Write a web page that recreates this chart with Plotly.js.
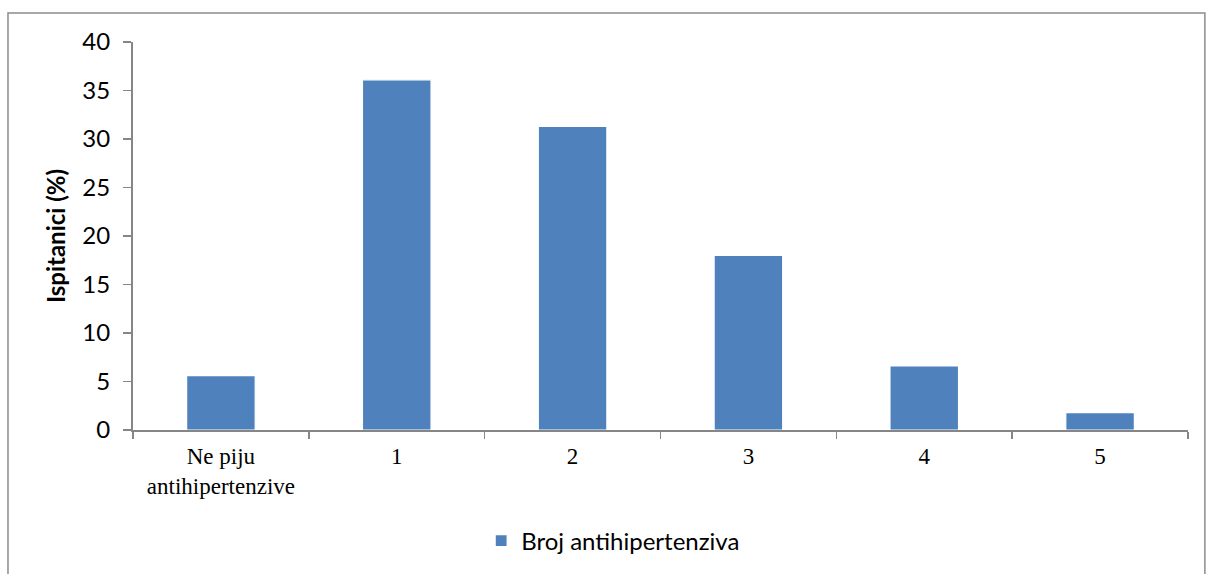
<!DOCTYPE html>
<html>
<head>
<meta charset="utf-8">
<script src="https://cdn.plot.ly/plotly-3.0.1.min.js"></script>
<style>html,body{margin:0;padding:0;background:#fff;}#chart{width:1206px;height:574px;}</style>
</head>
<body>
<div id="chart"></div>
<script>
const categories = ["Ne piju<br>antihipertenzive", "1", "2", "3", "4", "5"];
const values = [5.6, 36.1, 31.3, 18.0, 6.6, 1.8];
const seriesName = "Broj antihipertenziva";
const yTicks = [0, 5, 10, 15, 20, 25, 30, 35, 40];

const trace = {
  type: "bar",
  x: categories,
  y: values,
  name: seriesName,
  width: 0.39,
  marker: { color: "#4f81bd", line: { color: "#ffffff", width: 1.2 } },
  showlegend: true,
  hoverinfo: "x+y"
};

const sans = "Lato, Carlito, Calibri, sans-serif";

const layout = {
  width: 1206,
  height: 574,
  margin: { l: 133, r: 18, t: 42, b: 143 },
  paper_bgcolor: "#ffffff",
  plot_bgcolor: "#ffffff",
  showlegend: true,
  xaxis: {
    type: "category",
    showline: true,
    linecolor: "#868686",
    linewidth: 2,
    ticks: "outside",
    tickson: "boundaries",
    ticklen: 7,
    tickcolor: "#868686",
    tickwidth: 1.5,
    showgrid: false,
    zeroline: false,
    tickfont: { family: "Liberation Serif, Times New Roman, serif", size: 23, color: "#000" },
    ticklabelstandoff: 4
  },
  yaxis: {
    range: [0, 40],
    tickvals: yTicks,
    showline: true,
    linecolor: "#868686",
    linewidth: 2,
    ticks: "outside",
    ticklen: 8,
    tickcolor: "#868686",
    tickwidth: 1.5,
    showgrid: false,
    zeroline: false,
    tickfont: { family: sans, size: 24, color: "#000" },
    ticklabelstandoff: 8,
    title: { text: "Ispitanici (%)", font: { family: sans, size: 24, color: "#000", weight: "bold" }, standoff: 10 }
  },
  legend: {
    orientation: "h",
    x: 0.33,
    xanchor: "left",
    y: -0.283,
    yanchor: "middle",
    font: { family: sans, size: 24, color: "#000" },
    bgcolor: "rgba(0,0,0,0)"
  },
  shapes: [{
    type: "rect",
    xref: "paper", yref: "paper",
    x0: -0.1185, x1: 1.016,
    y0: -0.4, y1: 1.0746,
    line: { color: "#8c8c8c", width: 1.5 },
    fillcolor: "rgba(0,0,0,0)",
    layer: "below"
  }]
};

Plotly.newPlot("chart", [trace], layout, { displayModeBar: false, staticPlot: true });
</script>
</body>
</html>
